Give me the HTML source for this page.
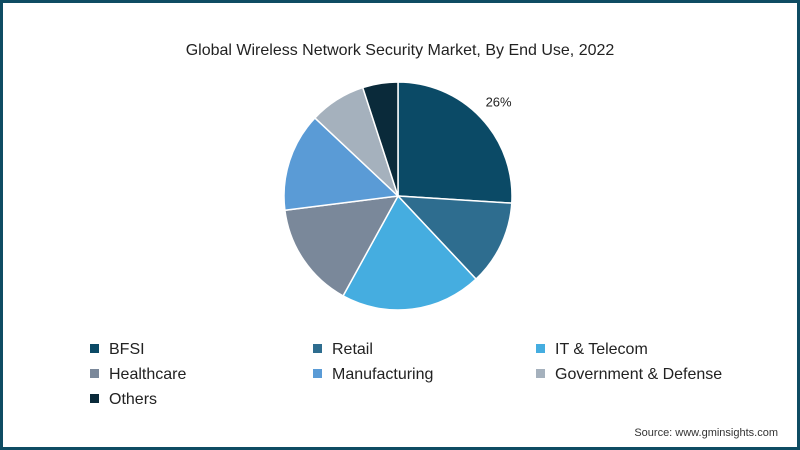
<!DOCTYPE html>
<html><head><meta charset="utf-8"><style>
body{margin:0;width:800px;height:450px;overflow:hidden;background:#fff;font-family:"Liberation Sans",sans-serif}
#frame{position:absolute;left:0;top:0;width:794px;height:444px;border:3px solid #0e4c63;background:#fff}
.t{position:absolute;white-space:nowrap}
.leg{position:absolute;font-size:16px;color:#222;white-space:nowrap}
.leg i{display:inline-block;width:9px;height:9px;margin-right:10px;vertical-align:1px}
</style></head><body>
<div id="frame"></div>
<div class="t" style="left:0;width:800px;text-align:center;top:42px;font-size:16px;color:#222">Global Wireless Network Security Market, By End Use, 2022</div>
<svg width="800" height="450" style="position:absolute;left:0;top:0"><g id="pie"></g></svg>
<div id="legend"></div>
<div class="t" style="right:22px;top:427px;font-size:11px;color:#333">Source: www.gminsights.com</div>
<script>
const categories=["BFSI","Retail","IT & Telecom","Healthcare","Manufacturing","Government & Defense","Others"];
const values=[26,12,20,15,14,8,5];
const colors=["#0b4a66","#2e6d8f","#45ade0","#7a889a","#5a9bd6","#a5b1bd","#0a2a3a"];
const labels=["26%","","","","","",""];
const cx=398,cy=196,r=114;
const g=document.getElementById('pie');
const total=values.reduce((a,b)=>a+b,0);
let a=0;
values.forEach((v,i)=>{
  const a0=a/total*2*Math.PI, a1=(a+v)/total*2*Math.PI; a+=v;
  const x0=cx+r*Math.sin(a0),y0=cy-r*Math.cos(a0),x1=cx+r*Math.sin(a1),y1=cy-r*Math.cos(a1);
  const p=document.createElementNS('http://www.w3.org/2000/svg','path');
  p.setAttribute('d',`M${cx},${cy}L${x0},${y0}A${r},${r} 0 ${a1-a0>Math.PI?1:0} 1 ${x1},${y1}Z`);
  p.setAttribute('fill',colors[i]);p.setAttribute('stroke','#fff');p.setAttribute('stroke-width','1.5');
  
  
  g.appendChild(p);
  if(labels[i]){
    const am=(a0+a1)/2, lr=r+24;
    const t=document.createElementNS('http://www.w3.org/2000/svg','text');
    t.setAttribute('x',cx+lr*Math.sin(am));t.setAttribute('y',cy-lr*Math.cos(am)+5);
    t.setAttribute('text-anchor','middle');
    t.setAttribute('font-size','13');t.setAttribute('fill','#222');t.setAttribute('font-family','Liberation Sans, sans-serif');
    t.textContent=labels[i];
    
    
    g.appendChild(t);
  }
});
const L=document.getElementById('legend');
categories.forEach((c,i)=>{
  const d=document.createElement('div');d.className='leg';
  d.style.left=(90+(i%3)*223)+'px';d.style.top=(341+Math.floor(i/3)*25)+'px';
  d.innerHTML=`<i style="background:${colors[i]}"></i>${c}`;
  
  
  L.appendChild(d);
});
</script>
</body></html>
